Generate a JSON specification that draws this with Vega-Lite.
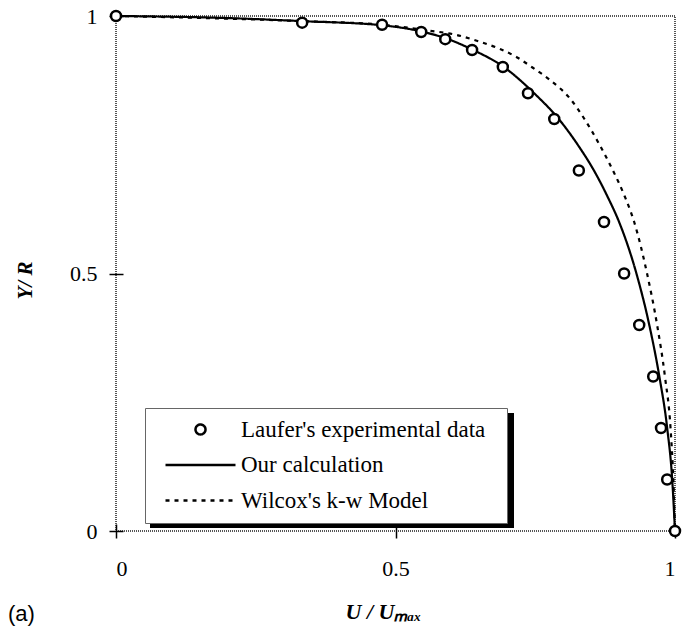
{
  "$schema": "https://vega.github.io/schema/vega-lite/v6.json",
  "width": 559,
  "height": 515,
  "autosize": {"type": "none"},
  "padding": {"left": 116, "top": 16, "right": 8, "bottom": 100},
  "background": "white",
  "title": {"text": "(a)", "orient": "bottom", "anchor": "start", "frame": "group", "font": "Liberation Sans", "fontSize": 22, "fontWeight": "normal", "color": "black", "dx": -108, "offset": -8, "baseline": "middle"},
  "config": {
    "view": {"stroke": "#555555", "strokeWidth": 2, "strokeDash": [1, 1]},
    "font": "Liberation Serif",
    "axis": {"grid": false, "domain": false, "ticks": true, "tickColor": "black", "tickWidth": 1.5, "tickSize": 14, "offset": -7,
      "labelFont": "Liberation Serif", "labelFontSize": 22, "labelColor": "black",
      "titleFont": "Liberation Serif", "titleFontSize": 21, "titleFontWeight": "bold", "titleFontStyle": "italic", "titleColor": "black"},
    "legend": {"orient": "none", "legendX": 29, "legendY": 392, "padding": 10, "fillColor": "white", "strokeColor": "#666666", "strokeWidth": 1,
      "labelFont": "Liberation Serif", "labelFontSize": 23, "labelColor": "black", "labelLimit": 500,
      "symbolSize": 100, "symbolStrokeWidth": 2.5, "symbolStrokeColor": "black", "symbolFillColor": "white",
      "rowPadding": 11.5, "symbolOffset": 34, "labelOffset": 29}
  },
  "datasets": {
    "lines": [
      {"series": "Our calculation", "x": 0, "y": 1},
      {"series": "Our calculation", "x": 0.2, "y": 0.996},
      {"series": "Our calculation", "x": 0.333, "y": 0.99},
      {"series": "Our calculation", "x": 0.476, "y": 0.982},
      {"series": "Our calculation", "x": 0.546, "y": 0.97},
      {"series": "Our calculation", "x": 0.589, "y": 0.957},
      {"series": "Our calculation", "x": 0.637, "y": 0.935},
      {"series": "Our calculation", "x": 0.695, "y": 0.9},
      {"series": "Our calculation", "x": 0.748, "y": 0.85},
      {"series": "Our calculation", "x": 0.792, "y": 0.8},
      {"series": "Our calculation", "x": 0.826, "y": 0.75},
      {"series": "Our calculation", "x": 0.855, "y": 0.7},
      {"series": "Our calculation", "x": 0.879, "y": 0.65},
      {"series": "Our calculation", "x": 0.9, "y": 0.6},
      {"series": "Our calculation", "x": 0.931, "y": 0.5},
      {"series": "Our calculation", "x": 0.954, "y": 0.4},
      {"series": "Our calculation", "x": 0.972, "y": 0.3},
      {"series": "Our calculation", "x": 0.986, "y": 0.2},
      {"series": "Our calculation", "x": 0.995, "y": 0.1},
      {"series": "Our calculation", "x": 1, "y": 0},
      {"series": "Wilcox's k-w Model", "x": 0, "y": 1},
      {"series": "Wilcox's k-w Model", "x": 0.333, "y": 0.99},
      {"series": "Wilcox's k-w Model", "x": 0.476, "y": 0.983},
      {"series": "Wilcox's k-w Model", "x": 0.55, "y": 0.973},
      {"series": "Wilcox's k-w Model", "x": 0.61, "y": 0.963},
      {"series": "Wilcox's k-w Model", "x": 0.651, "y": 0.95},
      {"series": "Wilcox's k-w Model", "x": 0.687, "y": 0.936},
      {"series": "Wilcox's k-w Model", "x": 0.717, "y": 0.92},
      {"series": "Wilcox's k-w Model", "x": 0.745, "y": 0.9},
      {"series": "Wilcox's k-w Model", "x": 0.776, "y": 0.876},
      {"series": "Wilcox's k-w Model", "x": 0.812, "y": 0.84},
      {"series": "Wilcox's k-w Model", "x": 0.838, "y": 0.8},
      {"series": "Wilcox's k-w Model", "x": 0.865, "y": 0.75},
      {"series": "Wilcox's k-w Model", "x": 0.889, "y": 0.7},
      {"series": "Wilcox's k-w Model", "x": 0.91, "y": 0.65},
      {"series": "Wilcox's k-w Model", "x": 0.927, "y": 0.6},
      {"series": "Wilcox's k-w Model", "x": 0.95, "y": 0.5},
      {"series": "Wilcox's k-w Model", "x": 0.968, "y": 0.4},
      {"series": "Wilcox's k-w Model", "x": 0.982, "y": 0.3},
      {"series": "Wilcox's k-w Model", "x": 0.992, "y": 0.2},
      {"series": "Wilcox's k-w Model", "x": 0.997, "y": 0.1},
      {"series": "Wilcox's k-w Model", "x": 1, "y": 0}
    ],
    "points": [
      {"series": "Laufer's experimental data", "x": 0, "y": 1},
      {"series": "Laufer's experimental data", "x": 0.333, "y": 0.987},
      {"series": "Laufer's experimental data", "x": 0.476, "y": 0.983},
      {"series": "Laufer's experimental data", "x": 0.546, "y": 0.969},
      {"series": "Laufer's experimental data", "x": 0.589, "y": 0.955},
      {"series": "Laufer's experimental data", "x": 0.637, "y": 0.934},
      {"series": "Laufer's experimental data", "x": 0.692, "y": 0.901},
      {"series": "Laufer's experimental data", "x": 0.737, "y": 0.85},
      {"series": "Laufer's experimental data", "x": 0.784, "y": 0.8},
      {"series": "Laufer's experimental data", "x": 0.828, "y": 0.7},
      {"series": "Laufer's experimental data", "x": 0.873, "y": 0.6},
      {"series": "Laufer's experimental data", "x": 0.909, "y": 0.5},
      {"series": "Laufer's experimental data", "x": 0.936, "y": 0.4},
      {"series": "Laufer's experimental data", "x": 0.961, "y": 0.3},
      {"series": "Laufer's experimental data", "x": 0.975, "y": 0.2},
      {"series": "Laufer's experimental data", "x": 0.986, "y": 0.1},
      {"series": "Laufer's experimental data", "x": 1, "y": 0}
    ]
  },
  "layer": [
    {
      "data": {"values": []},
      "mark": {"type": "point", "filled": true, "color": "black", "size": 4, "opacity": 1},
      "encoding": {
        "x": {"field": "x", "type": "quantitative"},
        "y": {"field": "y", "type": "quantitative"},
        "shape": {"field": "k", "type": "nominal",
          "scale": {"domain": ["box shadow"], "range": ["M0,0H364V115H0Z"]},
          "legend": {"title": null, "legendX": 33, "legendY": 396, "padding": 0, "fillColor": "transparent", "strokeColor": "transparent",
            "symbolSize": 4, "symbolStrokeWidth": 0, "symbolFillColor": "black", "symbolStrokeColor": "black", "symbolOffset": 0,
            "labelFontSize": 1, "labelOffset": 0, "labelExpr": "''"}}
      }
    },
    {
      "data": {"name": "lines"},
      "mark": {"type": "line", "color": "black", "strokeWidth": 2.2, "interpolate": "monotone"},
      "encoding": {
        "x": {"field": "x", "type": "quantitative", "scale": {"domain": [0, 1], "nice": false, "zero": false},
          "axis": {"values": [0, 0.5, 1], "format": "~g", "labelPadding": 20, "title": "U / Uₘₐₓ", "titleFontSize": 22, "titleX": 267, "titleY": 87, "titleBaseline": "middle", "titleAlign": "center"}},
        "y": {"field": "y", "type": "quantitative", "scale": {"domain": [0, 1], "nice": false, "zero": false},
          "axis": {"values": [0, 0.5, 1], "format": "~g", "labelPadding": 12, "title": "Y/ R", "titleX": -98, "titleY": 264, "titleBaseline": "middle", "titleAlign": "center", "titleAngle": -90}},
        "strokeDash": {"field": "series", "type": "nominal",
          "scale": {"domain": ["Laufer's experimental data", "Our calculation", "Wilcox's k-w Model"], "range": [[1, 0], [1, 0], [4, 5]]},
          "legend": {"title": "\u00a0", "titleOrient": "right", "titlePadding": 12, "titleFontSize": 2,
            "encode": {"symbols": {"update": {
              "shape": {"signal": "datum.index === 0 ? 'M-1,0A1,1 0 1,1 1,0A1,1 0 1,1 -1,0Z' : 'M-7,0H7'"},
              "size": {"value": 100},
              "fill": {"value": "white"},
              "stroke": {"value": "black"},
              "strokeWidth": {"value": 2.5},
              "opacity": {"value": 1}
            }}}}}
      }
    },
    {
      "data": {"name": "points"},
      "mark": {"type": "point", "shape": "circle", "filled": true, "fill": "white", "stroke": "black", "strokeWidth": 2.5, "size": 100, "opacity": 1},
      "encoding": {
        "x": {"field": "x", "type": "quantitative"},
        "y": {"field": "y", "type": "quantitative"}
      }
    }
  ]
}
